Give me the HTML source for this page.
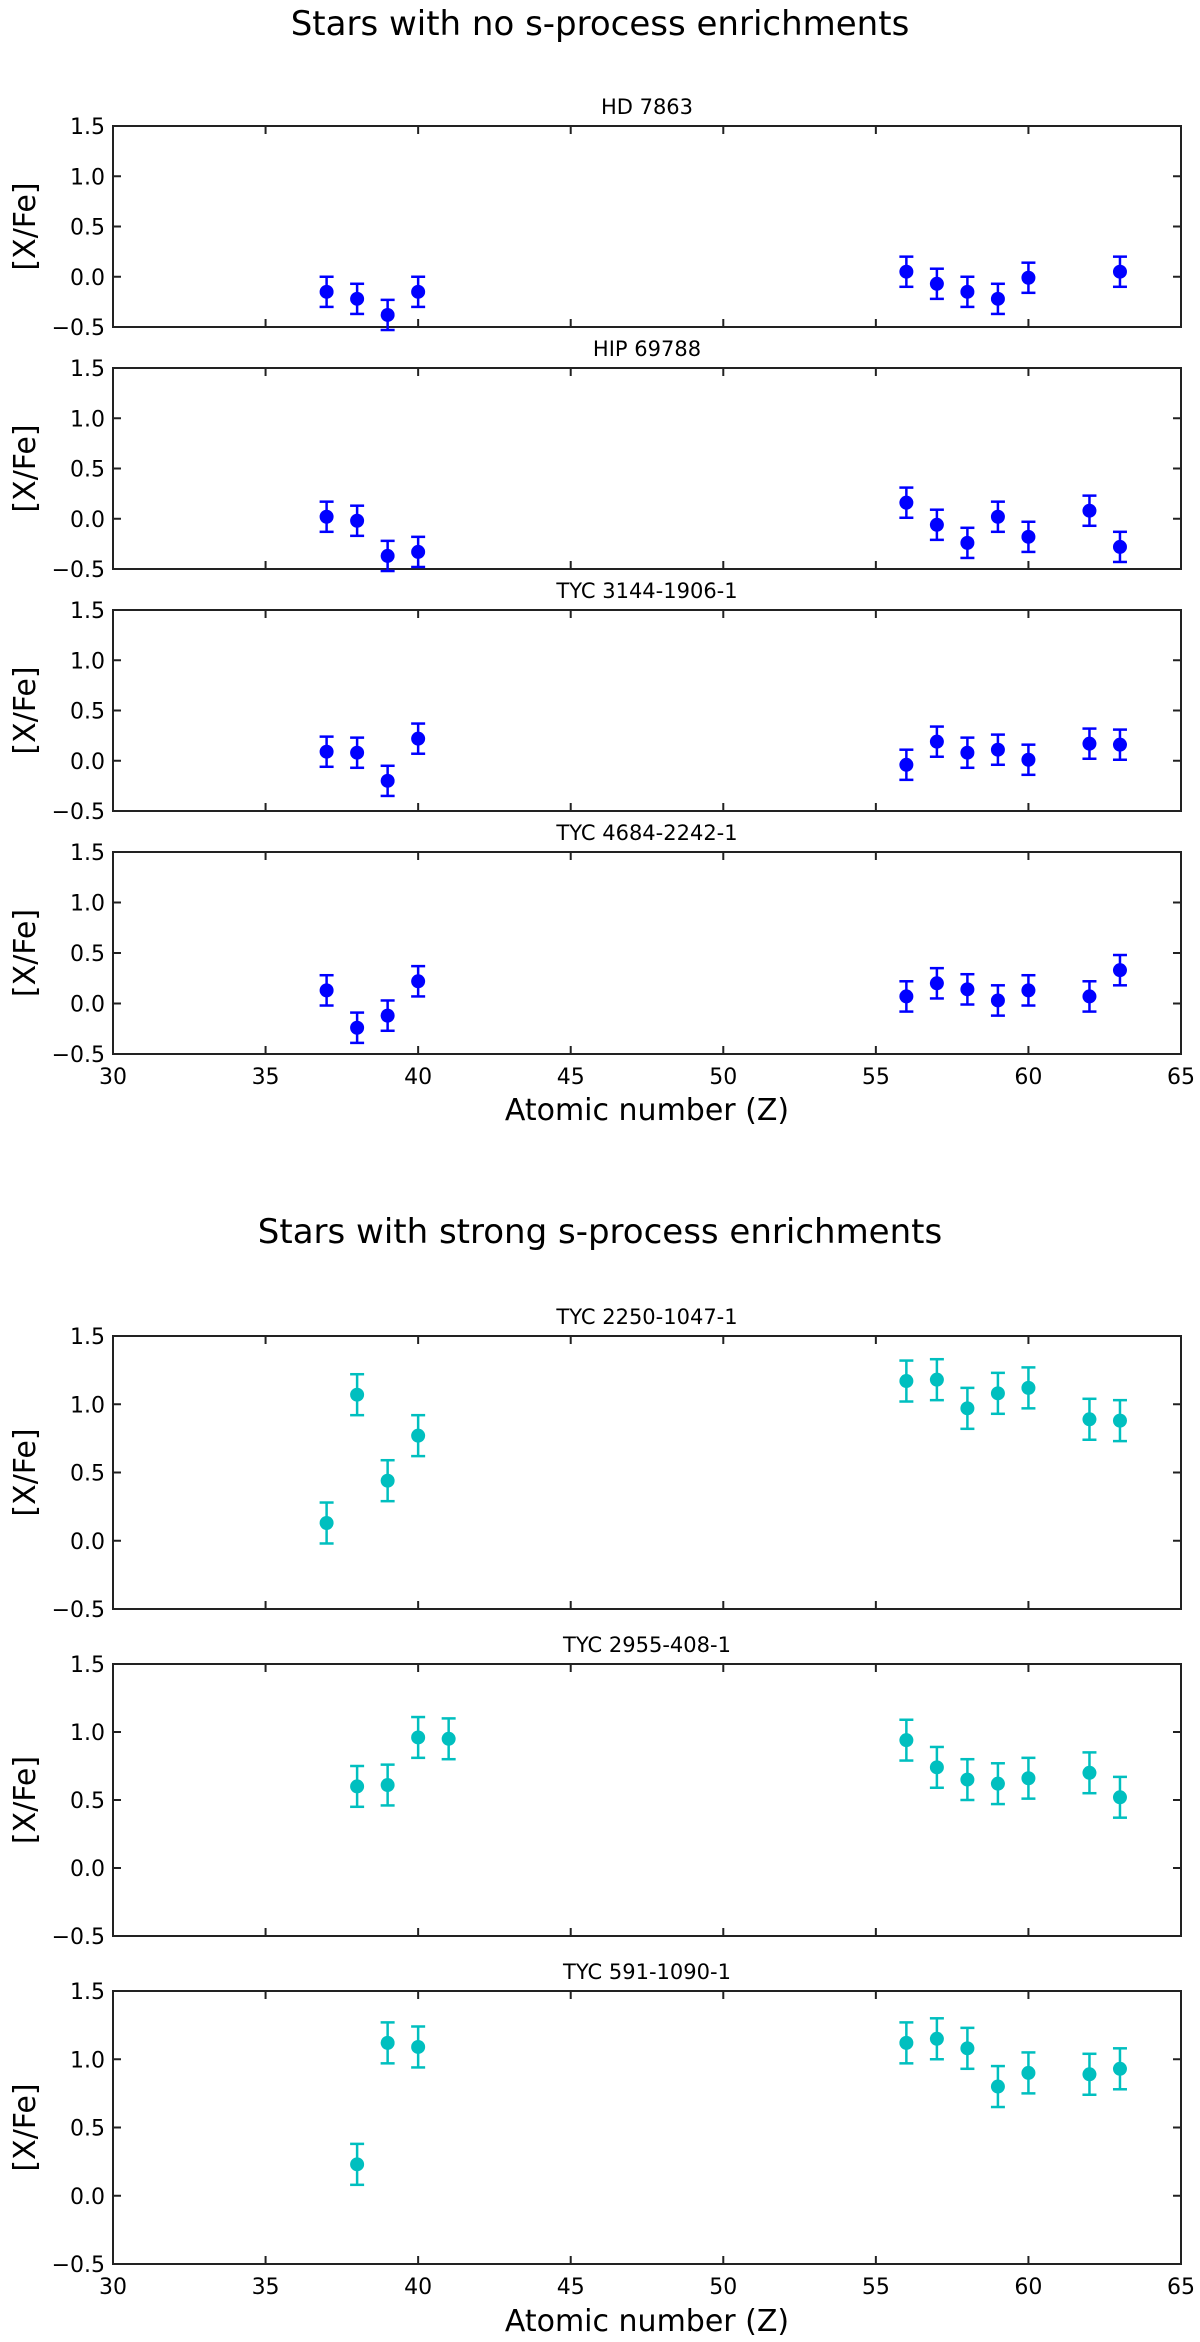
<!DOCTYPE html>
<html><head><meta charset="utf-8"><style>
html,body{margin:0;padding:0;background:#fff;}
svg{display:block;font-family:"DejaVu Sans","Liberation Sans",sans-serif;}
</style></head><body>
<svg id="fig" width="1200" height="2342" viewBox="0 0 1200 2342" xmlns="http://www.w3.org/2000/svg">
<text x="600" y="35" font-size="34" text-anchor="middle">Stars with no s-process enrichments</text>
<text x="600" y="1243" font-size="34" text-anchor="middle">Stars with strong s-process enrichments</text>
<text x="647" y="1120" font-size="30" text-anchor="middle">Atomic number (Z)</text>
<text x="647" y="2331" font-size="30" text-anchor="middle">Atomic number (Z)</text>
</svg>
<script>
const starNames = ["HD 7863","HIP 69788","TYC 3144-1906-1","TYC 4684-2242-1","TYC 2250-1047-1","TYC 2955-408-1","TYC 591-1090-1"];
const zHD7863 = [37,38,39,40,56,57,58,59,60,63];
const vHD7863 = [-0.15,-0.22,-0.38,-0.15,0.05,-0.07,-0.15,-0.22,-0.01,0.05];
const zHIP69788 = [37,38,39,40,56,57,58,59,60,62,63];
const vHIP69788 = [0.02,-0.02,-0.37,-0.33,0.16,-0.06,-0.24,0.02,-0.18,0.08,-0.28];
const zTYC3144 = [37,38,39,40,56,57,58,59,60,62,63];
const vTYC3144 = [0.09,0.08,-0.20,0.22,-0.04,0.19,0.08,0.11,0.01,0.17,0.16];
const zTYC4684 = [37,38,39,40,56,57,58,59,60,62,63];
const vTYC4684 = [0.13,-0.24,-0.12,0.22,0.07,0.20,0.14,0.03,0.13,0.07,0.33];
const zTYC2250 = [37,38,39,40,56,57,58,59,60,62,63];
const vTYC2250 = [0.13,1.07,0.44,0.77,1.17,1.18,0.97,1.08,1.12,0.89,0.88];
const zTYC2955 = [38,39,40,41,56,57,58,59,60,62,63];
const vTYC2955 = [0.60,0.61,0.96,0.95,0.94,0.74,0.65,0.62,0.66,0.70,0.52];
const zTYC591 = [38,39,40,56,57,58,59,60,62,63];
const vTYC591 = [0.23,1.12,1.09,1.12,1.15,1.08,0.80,0.90,0.89,0.93];
const errorSize = 0.15;
const xTicks = [30,35,40,45,50,55,60,65];
const yTicks = [-0.5,0.0,0.5,1.0,1.5];
const yTickLabels = ["\u22120.5","0.0","0.5","1.0","1.5"];

const svg = document.getElementById('fig');
const NS = 'http://www.w3.org/2000/svg';
const X0=113, X1=1181;
function xs(z){return X0+(z-30)/(65-30)*(X1-X0);}
function mk(tag, attrs, parent){const e=document.createElementNS(NS,tag);for(const k in attrs)e.setAttribute(k,attrs[k]);(parent||svg).appendChild(e);return e;}

const panels = [
 {z:zHD7863,v:vHD7863,top:126,bot:327,col:'#0000ff',xl:false},
 {z:zHIP69788,v:vHIP69788,top:368,bot:569,col:'#0000ff',xl:false},
 {z:zTYC3144,v:vTYC3144,top:610,bot:811,col:'#0000ff',xl:false},
 {z:zTYC4684,v:vTYC4684,top:852,bot:1054,col:'#0000ff',xl:true},
 {z:zTYC2250,v:vTYC2250,top:1336,bot:1609,col:'#00bfbf',xl:false},
 {z:zTYC2955,v:vTYC2955,top:1664,bot:1936,col:'#00bfbf',xl:false},
 {z:zTYC591,v:vTYC591,top:1991,bot:2264,col:'#00bfbf',xl:true}
];
panels.forEach((p,i)=>{
  const g = mk('g',{});
  
  
  const ys = v => p.bot-(v+0.5)/2*(p.bot-p.top);
  const t = mk('text',{x:(X0+X1)/2,y:p.top-12,'font-size':21,'text-anchor':'middle'},g);
  t.textContent = starNames[i];
  
  
  const yl = mk('text',{x:0,y:0,'font-size':30,'text-anchor':'middle',transform:`translate(35,${(p.top+p.bot)/2}) rotate(-90)`},g);
  yl.textContent='[X/Fe]';
  
  
  yTicks.forEach((yt,k)=>{
    const y=ys(yt);
    mk('line',{x1:X0,x2:X0+8,y1:y,y2:y,stroke:'#222','stroke-width':2},g);
    mk('line',{x1:X1,x2:X1-8,y1:y,y2:y,stroke:'#222','stroke-width':2},g);
    const l=mk('text',{x:X0-8,y:y+8,'font-size':22,'text-anchor':'end'},g);
    l.textContent=yTickLabels[k];
    
    
  });
  xTicks.forEach(xt=>{
    const x=xs(xt);
    mk('line',{x1:x,x2:x,y1:p.top,y2:p.top+8,stroke:'#222','stroke-width':2},g);
    mk('line',{x1:x,x2:x,y1:p.bot,y2:p.bot-8,stroke:'#222','stroke-width':2},g);
    if(p.xl){
      const l=mk('text',{x:x,y:p.bot+30,'font-size':22,'text-anchor':'middle'},g);
      l.textContent=String(xt);
      
      
    }
  });
  const r=mk('rect',{x:X0,y:p.top,width:X1-X0,height:p.bot-p.top,fill:'none',stroke:'#222','stroke-width':2},g);
  
  
  p.z.forEach((z,k)=>{
    const x=xs(z), y=ys(p.v[k]), y1=ys(p.v[k]+errorSize), y2=ys(p.v[k]-errorSize);
    const pg=mk('g',{},g);
    
    
    mk('line',{x1:x,x2:x,y1:y1,y2:y2,stroke:p.col,'stroke-width':2.5},pg);
    mk('line',{x1:x-7,x2:x+7,y1:y1,y2:y1,stroke:p.col,'stroke-width':2.5},pg);
    mk('line',{x1:x-7,x2:x+7,y1:y2,y2:y2,stroke:p.col,'stroke-width':2.5},pg);
    mk('circle',{cx:x,cy:y,r:7,fill:p.col},pg);
  });
});
</script>
</body></html>
